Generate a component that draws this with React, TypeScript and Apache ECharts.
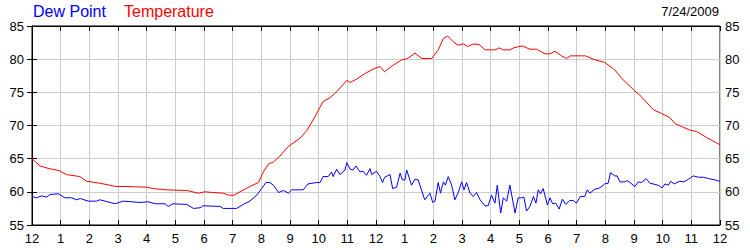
import React, { useEffect, useRef } from "react";
import * as echarts from "echarts";

const tempHours = [0, 0.28, 0.6, 0.95, 1.2, 1.67, 1.9, 2.37, 2.93, 3.3, 4.0, 4.2, 4.7, 5.4, 5.8, 6.03, 6.3, 6.67, 6.85, 7.05, 7.25, 7.6, 7.9, 8.07, 8.25, 8.42, 8.65, 8.93, 9.35, 9.58, 9.87, 10.15, 10.4, 10.63, 10.98, 11.1, 11.33, 11.6, 11.9, 12.14, 12.3, 12.6, 12.9, 13.1, 13.36, 13.6, 13.94, 14.17, 14.35, 14.5, 14.7, 14.86, 15.05, 15.2, 15.4, 15.6, 15.8, 16.15, 16.3, 16.43, 16.67, 16.8, 17.1, 17.37, 17.6, 17.9, 18.07, 18.24, 18.47, 18.65, 18.77, 19.3, 19.64, 19.98, 20.33, 20.57, 21.03, 21.2, 21.67, 21.96, 22.25, 22.43, 22.95, 23.18, 23.53, 24];
const tempValues = [65.0, 63.9, 63.5, 63.2, 62.6, 62.3, 61.6, 61.3, 60.8, 60.8, 60.7, 60.5, 60.3, 60.2, 59.8, 60.0, 59.9, 59.8, 59.5, 59.5, 60.0, 60.8, 61.4, 63.0, 64.2, 64.5, 65.4, 66.8, 68.1, 69.2, 71.3, 73.6, 74.2, 75.1, 76.8, 76.5, 77.0, 77.8, 78.5, 78.9, 78.1, 79.1, 79.9, 80.1, 80.9, 80.1, 80.1, 81.4, 83.1, 83.5, 82.6, 82.1, 82.3, 81.9, 82.3, 82.2, 81.4, 81.4, 81.7, 81.4, 81.4, 81.7, 82.0, 81.5, 81.5, 80.8, 80.8, 81.2, 80.5, 80.1, 80.5, 80.5, 79.9, 79.5, 78.4, 77.1, 75.2, 74.6, 72.4, 71.8, 71.2, 70.3, 69.3, 69.1, 68.2, 67.1];

const dewHours = [0, 0.16, 0.34, 0.51, 0.63, 0.92, 1.15, 1.38, 1.56, 1.68, 1.96, 2.25, 2.37, 2.9, 3.18, 3.77, 4.05, 4.3, 4.64, 4.75, 4.92, 5.4, 5.63, 5.86, 5.97, 6.56, 6.67, 7.14, 7.37, 7.6, 7.84, 8.01, 8.16, 8.3, 8.42, 8.6, 8.77, 8.95, 9.06, 9.46, 9.63, 9.93, 10.05, 10.15, 10.33, 10.45, 10.5, 10.63, 10.74, 10.92, 10.98, 11.1, 11.2, 11.3, 11.44, 11.55, 11.67, 11.79, 11.85, 12.02, 12.14, 12.23, 12.3, 12.49, 12.58, 12.72, 12.84, 12.92, 13.01, 13.07, 13.24, 13.36, 13.47, 13.7, 13.88, 13.98, 14.06, 14.17, 14.25, 14.35, 14.42, 14.52, 14.64, 14.75, 14.87, 14.99, 15.07, 15.16, 15.28, 15.39, 15.51, 15.63, 15.8, 15.91, 16.03, 16.15, 16.23, 16.35, 16.44, 16.56, 16.67, 16.85, 16.96, 17.08, 17.16, 17.25, 17.37, 17.49, 17.58, 17.66, 17.74, 17.83, 17.98, 18.07, 18.16, 18.27, 18.39, 18.5, 18.62, 18.76, 18.88, 18.99, 19.13, 19.28, 19.37, 19.46, 19.64, 19.81, 19.98, 20.1, 20.18, 20.33, 20.41, 20.51, 20.68, 20.76, 20.86, 21.03, 21.15, 21.26, 21.42, 21.56, 21.84, 21.98, 22.08, 22.2, 22.28, 22.4, 22.6, 22.74, 22.9, 23.07, 23.25, 23.42, 23.6, 23.83, 23.95, 24];
const dewValues = [59.3, 59.1, 59.4, 59.2, 59.6, 59.7, 59.1, 59.1, 58.8, 59.0, 58.6, 58.6, 58.8, 58.2, 58.6, 58.4, 58.5, 58.2, 58.2, 57.8, 58.2, 58.1, 57.5, 57.6, 57.9, 57.8, 57.5, 57.5, 58.1, 58.6, 59.5, 60.5, 61.4, 61.4, 61.0, 59.9, 60.2, 59.8, 60.3, 60.3, 61.2, 61.4, 61.4, 62.3, 62.3, 63.0, 62.3, 63.4, 62.6, 63.3, 64.4, 63.4, 63.3, 63.9, 63.0, 63.1, 62.5, 63.5, 62.6, 63.1, 62.3, 61.4, 62.2, 62.6, 60.5, 60.7, 62.8, 61.8, 61.8, 63.3, 61.0, 61.9, 61.8, 58.8, 59.8, 58.4, 58.6, 61.4, 59.8, 61.5, 61.0, 62.3, 61.0, 58.8, 59.9, 61.5, 60.3, 61.4, 59.8, 59.3, 59.9, 58.8, 57.9, 57.9, 59.5, 58.3, 61.0, 56.8, 59.1, 58.6, 61.0, 56.8, 59.1, 59.1, 59.2, 57.1, 57.8, 59.3, 58.3, 60.3, 59.7, 60.5, 58.0, 59.1, 58.2, 58.3, 57.4, 58.9, 58.1, 58.7, 58.7, 58.3, 59.3, 59.3, 60.3, 59.8, 60.4, 60.6, 61.2, 61.3, 62.9, 62.4, 62.4, 61.5, 61.5, 61.7, 61.4, 60.8, 61.5, 61.4, 62.0, 61.3, 61.0, 60.6, 61.2, 61.0, 61.6, 61.2, 61.6, 61.5, 61.9, 62.4, 62.2, 62.2, 62.0, 61.8, 61.6, 61.7];

const legendNames = ["Dew Point", "Temperature"];
const dateLabel = "7/24/2009";

const FONT = "'Liberation Sans', Arial, sans-serif";

export default function App() {
  const ref = useRef<HTMLDivElement>(null);
  useEffect(() => {
    if (!ref.current) return;
    const chart = echarts.init(ref.current, null, { renderer: "svg" });
    const hourLabel = (v: number) => {
      const h = Math.round(v) % 12;
      return h === 0 ? "12" : String(h);
    };
    const axisLabelY = { color: "#000", fontSize: 13, fontFamily: FONT };
    chart.setOption({
      animation: false,
      backgroundColor: "#fff",
      grid: { left: 32, right: 30, top: 26, bottom: 25, show: true, borderColor: "#000", borderWidth: 1, backgroundColor: "transparent" },
      graphic: [
        { type: "text", left: 33, top: 3, style: { text: legendNames[0], fill: "#0000ff", font: `16px ${FONT}` } },
        { type: "text", left: 124, top: 3, style: { text: legendNames[1], fill: "#ff0000", font: `16px ${FONT}` } },
        { type: "text", right: 31, top: 5, style: { text: dateLabel, fill: "#000", font: `13px ${FONT}` } },
      ],
      xAxis: [
        {
          type: "value", min: 0, max: 24, interval: 1, position: "bottom",
          axisLine: { show: true, lineStyle: { color: "#000" } },
          axisTick: { show: true, inside: true, length: 5, lineStyle: { color: "#000" } },
          axisLabel: { color: "#000", fontSize: 13, fontFamily: FONT, margin: 7, formatter: hourLabel },
          splitLine: { show: true, lineStyle: { color: "#cccccc", width: 1 } },
        },
        {
          type: "value", min: 0, max: 24, interval: 1, position: "top",
          axisLine: { show: true, lineStyle: { color: "#000" } },
          axisTick: { show: true, inside: true, length: 5, lineStyle: { color: "#000" } },
          axisLabel: { show: false },
          splitLine: { show: false },
        },
      ],
      yAxis: [
        {
          type: "value", min: 55, max: 85, interval: 5, position: "left",
          axisLine: { show: true, lineStyle: { color: "#000" } },
          axisTick: { show: true, inside: true, length: 5, lineStyle: { color: "#000" } },
          axisLabel: { ...axisLabelY, margin: 8 },
          splitLine: { show: true, lineStyle: { color: "#cccccc", width: 1 } },
        },
        {
          type: "value", min: 55, max: 85, interval: 5, position: "right",
          axisLine: { show: true, lineStyle: { color: "#000" } },
          axisTick: { show: true, inside: true, length: 5, lineStyle: { color: "#000" } },
          axisLabel: { ...axisLabelY, margin: 5 },
          splitLine: { show: false },
        },
      ],
      series: [
        {
          name: legendNames[1], type: "line", showSymbol: false, symbol: "none",
          data: tempHours.map((h, i) => [h, tempValues[i]]),
          lineStyle: { color: "#ff0000", width: 1 }, z: 3,
        },
        {
          name: legendNames[0], type: "line", showSymbol: false, symbol: "none",
          data: dewHours.map((h, i) => [h, dewValues[i]]),
          lineStyle: { color: "#0000ff", width: 1 }, z: 4,
        },
      ],
    });
    return () => chart.dispose();
  }, []);
  return <div ref={ref} style={{ position: "fixed", left: 0, top: 0, width: 750, height: 250 }} />;
}
